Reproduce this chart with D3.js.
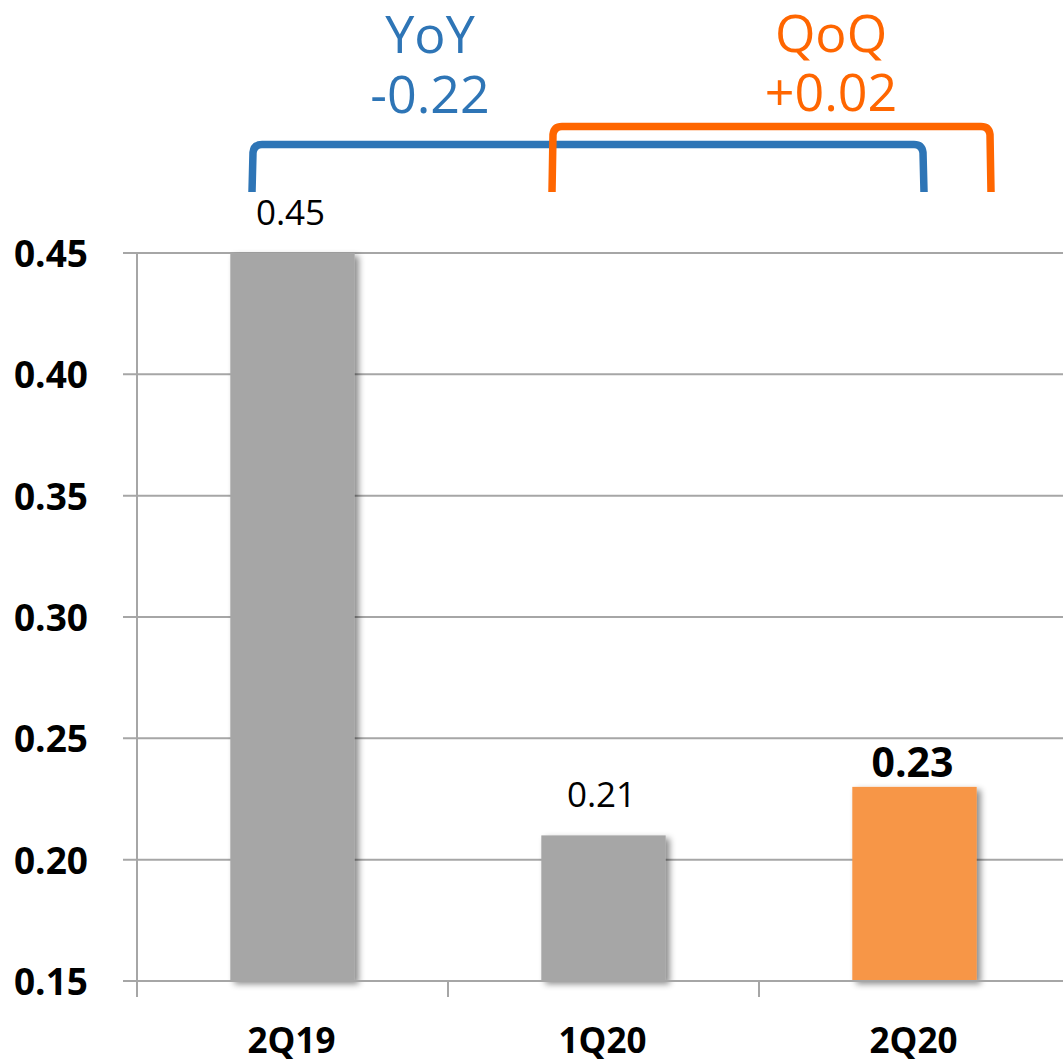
<!DOCTYPE html>
<html>
<head>
<meta charset="utf-8">
<script src="https://cdn.jsdelivr.net/npm/d3@7"></script>
<style>
html,body{margin:0;padding:0;background:#fff;}
svg{display:block;font-family:"Open Sans",sans-serif;}
</style>
</head>
<body>
<svg id="chart" width="1063" height="1062"></svg>
<script>
const categories = ["2Q19", "1Q20", "2Q20"];
const values = [0.45, 0.21, 0.23];
const valueLabels = ["0.45", "0.21", "0.23"];
const yTicks = [0.15, 0.20, 0.25, 0.30, 0.35, 0.40, 0.45];
const yoyText = ["YoY", "-0.22"];
const qoqText = ["QoQ", "+0.02"];

const svg = d3.select("#chart");
const x = d3.scaleBand().domain(categories).range([137, 1070]);
const y = d3.scaleLinear().domain([0.15, 0.45]).range([981, 253]);
const barW = x.bandwidth() * 0.4;

const defs = svg.append("defs");
const f = defs.append("filter").attr("id", "shadow").attr("x", "-20%").attr("y", "-20%").attr("width", "150%").attr("height", "150%");
f.append("feDropShadow").attr("dx", 4).attr("dy", 3).attr("stdDeviation", 3).attr("flood-color", "#000").attr("flood-opacity", 0.45);

// gridlines
svg.append("g").selectAll("line").data(yTicks).join("line")
  .attr("x1", 123).attr("x2", 1063)
  .attr("y1", d => y(d)).attr("y2", d => y(d))
  .attr("stroke", "#a6a6a6").attr("stroke-width", 2);

// y axis line
svg.append("line").attr("x1", 137).attr("x2", 137).attr("y1", y(0.45)).attr("y2", 997)
  .attr("stroke", "#a6a6a6").attr("stroke-width", 2);

// x ticks at band boundaries
svg.append("g").selectAll("line").data(categories.slice(1)).join("line")
  .attr("x1", d => x(d)).attr("x2", d => x(d))
  .attr("y1", y(0.15)).attr("y2", 997)
  .attr("stroke", "#a6a6a6").attr("stroke-width", 2);

// bars
const barColor = (d, i) => i === categories.length - 1 ? "#f79646" : "#a6a6a6";
svg.append("g").selectAll("rect").data(values).join("rect")
  .attr("x", (d, i) => x(categories[i]) + (x.bandwidth() - barW) / 2)
  .attr("width", barW)
  .attr("y", d => y(d))
  .attr("height", d => y(0.15) - y(d))
  .attr("fill", barColor)
  .attr("filter", "url(#shadow)");

// redraw baseline over bars
svg.append("line").attr("x1", 123).attr("x2", 1063).attr("y1", y(0.15)).attr("y2", y(0.15))
  .attr("stroke", "#a6a6a6").attr("stroke-width", 2);

// y tick labels
svg.append("g").selectAll("text").data(yTicks).join("text")
  .attr("x", 88).attr("y", d => y(d) + 14)
  .attr("text-anchor", "end")
  .attr("font-size", 37).attr("font-weight", 700).attr("fill", "#000")
  .text(d => d.toFixed(2));

// category labels
svg.append("g").selectAll("text").data(categories).join("text")
  .attr("x", d => x(d) + x.bandwidth() / 2 - 1)
  .attr("y", 1053)
  .attr("text-anchor", "middle")
  .attr("font-size", 35).attr("font-weight", 700).attr("fill", "#000")
  .text(d => d);

// value labels
svg.append("g").selectAll("text").data(values).join("text")
  .attr("x", (d, i) => x(categories[i]) + x.bandwidth() / 2 - 2)
  .attr("y", (d, i) => i === values.length - 1 ? y(d) - 10 : y(d) - 28)
  .attr("text-anchor", "middle")
  .attr("font-size", (d, i) => i === values.length - 1 ? 41 : 35)
  .attr("font-weight", (d, i) => i === values.length - 1 ? 700 : 400)
  .attr("fill", "#000")
  .text((d, i) => valueLabels[i]);

// brackets
const blue = "#2e75b6", orange = "#ff6600";
function bracket(x1, x2, top, bottom, color) {
  const r = 8;
  const p = d3.path();
  p.moveTo(x1, bottom);
  p.lineTo(x1 + 1, top + r);
  p.quadraticCurveTo(x1 + 2, top, x1 + r + 2, top);
  p.lineTo(x2 - r - 2, top);
  p.quadraticCurveTo(x2 - 2, top, x2 - 1, top + r);
  p.lineTo(x2, bottom);
  svg.append("path").attr("d", p.toString()).attr("fill", "none")
    .attr("stroke", color).attr("stroke-width", 7.5).attr("stroke-linejoin", "round");
}
bracket(252, 924, 144.5, 192, blue);
bracket(552, 991, 126.5, 192, orange);

// annotation text
svg.append("g").selectAll("text").data(yoyText).join("text")
  .attr("x", 430).attr("y", (d, i) => i === 0 ? 53 : 113)
  .attr("text-anchor", "middle").attr("font-size", 52).attr("fill", blue)
  .text(d => d);
svg.append("g").selectAll("text").data(qoqText).join("text")
  .attr("x", 831).attr("y", (d, i) => i === 0 ? 52 : 111)
  .attr("text-anchor", "middle").attr("font-size", 52).attr("fill", orange)
  .text(d => d);
</script>
</body>
</html>
